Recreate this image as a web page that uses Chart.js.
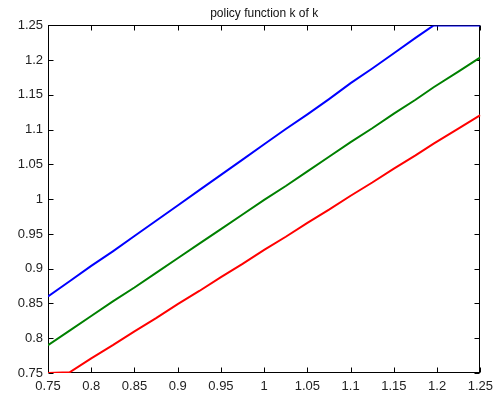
<!DOCTYPE html>
<html>
<head>
<meta charset="utf-8">
<script src="https://cdn.jsdelivr.net/npm/chart.js@4/dist/chart.umd.min.js"></script>
<style>
  html, body { margin: 0; padding: 0; background: #fff; }
  #wrap { width: 499px; height: 396px; position: relative; }
</style>
</head>
<body>
<div id="wrap"><canvas id="c" width="499" height="396"></canvas></div>
<script>
// ---- data ----
const titleText = 'policy function k of k';
const kGrid = [0.75, 0.775, 0.8, 0.825, 0.85, 0.875, 0.9, 0.925, 0.95, 0.975, 1.0,
               1.025, 1.05, 1.075, 1.1, 1.125, 1.15, 1.175, 1.196, 1.225, 1.25];
const kHigh = [0.860, 0.882, 0.904, 0.925, 0.947, 0.969, 0.991, 1.013, 1.035, 1.057, 1.079,
               1.101, 1.122, 1.144, 1.167, 1.188, 1.210, 1.232, 1.250, 1.250, 1.250];
const kMid  = [0.790, 0.811, 0.832, 0.853, 0.873, 0.894, 0.915, 0.936, 0.957, 0.978, 0.999,
               1.019, 1.040, 1.061, 1.082, 1.102, 1.123, 1.143, 1.161, 1.184, 1.204];
const kLow  = [0.750, 0.751, 0.771, 0.790, 0.810, 0.829, 0.849, 0.868, 0.888, 0.907, 0.927,
               0.946, 0.966, 0.985, 1.005, 1.024, 1.044, 1.063, 1.080, 1.102, 1.121];
const xTicks = [0.75, 0.8, 0.85, 0.9, 0.95, 1, 1.05, 1.1, 1.15, 1.2, 1.25];
const yTicks = [0.75, 0.8, 0.85, 0.9, 0.95, 1, 1.05, 1.1, 1.15, 1.2, 1.25];

function pts(ys) { return kGrid.map((x, i) => ({ x: x, y: ys[i] })); }
function fmt(v) { return String(Number(v.toFixed(2))); }

const innerTicks = {
  id: 'innerTicks',
  beforeDatasetsDraw(chart) {
    const { ctx, chartArea: a, scales } = chart;
    const L = Math.round(a.left) + 0.5, R = Math.round(a.right) - 0.5;
    const T = Math.round(a.top) + 0.5, B = Math.round(a.bottom) - 0.5;
    const len = 5;
    ctx.save();
    ctx.strokeStyle = '#000';
    ctx.lineWidth = 1;
    ctx.beginPath();
    xTicks.forEach(v => {
      const px = Math.round(scales.x.getPixelForValue(v)) + 0.5;
      ctx.moveTo(px, B); ctx.lineTo(px, B - len);
      ctx.moveTo(px, T); ctx.lineTo(px, T + len);
    });
    yTicks.forEach(v => {
      const py = Math.round(scales.y.getPixelForValue(v)) + 0.5;
      ctx.moveTo(L, py); ctx.lineTo(L + len, py);
      ctx.moveTo(R, py); ctx.lineTo(R - len, py);
    });
    ctx.stroke();
    ctx.strokeRect(L, T, R - L, B - T);
    ctx.restore();
  }
};

const tickFont = { family: '"Liberation Sans", Arial, sans-serif', size: 13 };

new Chart(document.getElementById('c'), {
  type: 'scatter',
  data: {
    datasets: [
      { data: pts(kHigh), borderColor: '#0000ff', clip: 0 },
      { data: pts(kMid),  borderColor: '#008000' },
      { data: pts(kLow),  borderColor: '#ff0000' }
    ].map(d => Object.assign(d, { showLine: true, pointRadius: 0, borderWidth: 2, tension: 0, fill: false }))
  },
  options: {
    responsive: false,
    animation: false,
    devicePixelRatio: 1,
    layout: { padding: { left: 0, right: 12, top: 0, bottom: 0 } },
    plugins: {
      legend: { display: false },
      tooltip: { enabled: false },
      title: {
        display: true,
        text: titleText,
        fullSize: false,
        color: '#111',
        font: { family: '"Liberation Sans", Arial, sans-serif', size: 12, weight: 'normal' },
        padding: { top: 6, bottom: 5 }
      }
    },
    scales: {
      x: {
        type: 'linear',
        min: 0.75, max: 1.25,
        afterBuildTicks: s => { s.ticks = xTicks.map(v => ({ value: v })); },
        afterFit: s => { s.height = 23; },
        grid: { display: false, drawTicks: false },
        border: { display: false },
        ticks: { padding: 6, color: '#222', font: tickFont, maxRotation: 0, autoSkip: false, callback: v => fmt(v) }
      },
      y: {
        type: 'linear',
        min: 0.75, max: 1.25,
        afterBuildTicks: s => { s.ticks = yTicks.map(v => ({ value: v })); },
        afterFit: s => { s.width = 48; },
        grid: { display: false, drawTicks: false },
        border: { display: false },
        ticks: { padding: 5, color: '#222', font: tickFont, autoSkip: false, callback: v => fmt(v) }
      }
    }
  },
  plugins: [innerTicks]
});
</script>
</body>
</html>
